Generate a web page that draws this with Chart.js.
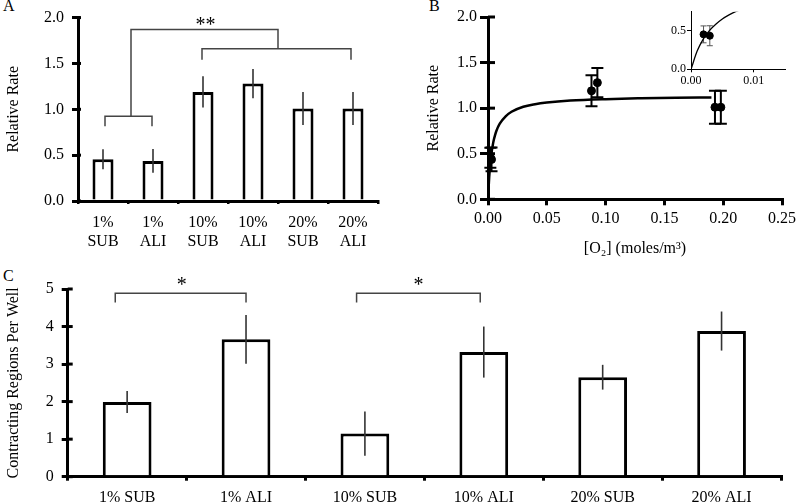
<!DOCTYPE html>
<html>
<head>
<meta charset="utf-8">
<script src="https://cdn.jsdelivr.net/npm/chart.js@4.4.1/dist/chart.umd.min.js"></script>
<style>
  body { margin: 0; background: #fff; width: 800px; height: 504px; position: relative; overflow: hidden; font-family: "Liberation Serif", serif; }
  canvas { position: absolute; }
  .panel { position: absolute; font-size: 16px; color: #000; }
</style>
</head>
<body>
<div class="panel" style="left:3px;top:-3px">A</div>
<div class="panel" style="left:429px;top:-3px">B</div>
<div class="panel" style="left:3px;top:267px">C</div>
<canvas id="chartA" width="400" height="262" style="left:0;top:0"></canvas>
<canvas id="chartB" width="400" height="262" style="left:400px;top:0"></canvas>
<canvas id="chartInset" width="145" height="92" style="left:655px;top:0"></canvas>
<canvas id="chartC" width="800" height="234" style="left:0;top:270px"></canvas>
<script>
// --- data ---
const groupsA = [['1%', 'SUB'], ['1%', 'ALI'], ['10%', 'SUB'], ['10%', 'ALI'], ['20%', 'SUB'], ['20%', 'ALI']];
const rateA = [0.455, 0.437, 1.19, 1.28, 1.01, 1.01];
const rateErrA = [0.11, 0.13, 0.17, 0.16, 0.18, 0.18];

const o2X = [0.002, 0.003, 0.088, 0.093, 0.193, 0.198];   // B points, same groups as A
const fitX = [0, 0.001, 0.002, 0.003, 0.004, 0.005, 0.006, 0.0071, 0.01, 0.015, 0.02, 0.03, 0.04, 0.05, 0.07, 0.10, 0.13, 0.16, 0.19];
const fitY = [0, 0.24, 0.40, 0.51, 0.59, 0.655, 0.705, 0.75, 0.83, 0.91, 0.96, 1.015, 1.043, 1.061, 1.083, 1.099, 1.108, 1.114, 1.118];
const insetXTicks = [0, 0.01];
const insetYTicks = [0, 0.5];

const groupsC = ['1% SUB', '1% ALI', '10% SUB', '10% ALI', '20% SUB', '20% ALI'];
const regionsC = [1.99, 3.66, 1.15, 3.32, 2.65, 3.88];
const regionsErrC = [0.29, 0.65, 0.59, 0.68, 0.33, 0.52];

// significance brackets: [from, to, top, left leg end, right leg end] in category units / y units
const bracketsA = [[0.04, 0.98, 0.925, 0.815, 0.815], [1.98, 4.96, 1.66, 1.54, 1.54], [0.56, 3.5, 1.87, 0.925, 1.66]];
const starsA = [[2.05, 1.95, '**']];
const bracketsC = [[-0.1, 1.0, 4.89, 4.64, 4.64], [1.93, 2.97, 4.89, 4.64, 4.64]];
const starsC = [[0.46, 5.2, '*'], [2.45, 5.2, '*']];

const serif = '"Liberation Serif", "Times New Roman", serif';
Chart.defaults.font.family = serif;
Chart.defaults.color = '#000';

const errorBars = {
  id: 'errorBars',
  beforeDatasetsDraw(chart, args, opts) {
    if (!opts.err || !opts.behind) return;
    drawErr(chart, opts);
  },
  afterDatasetsDraw(chart, args, opts) {
    if (!opts.err || opts.behind) return;
    drawErr(chart, opts);
  }
};
function drawErr(chart, opts) {
  const ctx = chart.ctx, ys = chart.scales.y, xs = chart.scales.x;
  const ds = chart.data.datasets[opts.dataset || 0];
  ctx.save();
  ctx.strokeStyle = opts.color; ctx.lineWidth = opts.width;
  ds.data.forEach((v, i) => {
    const val = typeof v === 'object' ? v.y : v;
    const x = typeof v === 'object' ? xs.getPixelForValue(v.x) : chart.getDatasetMeta(opts.dataset || 0).data[i].x;
    const y1 = ys.getPixelForValue(val + opts.err[i]), y2 = ys.getPixelForValue(val - opts.err[i]);
    ctx.beginPath();
    ctx.moveTo(x, y1); ctx.lineTo(x, y2);
    if (opts.cap) {
      ctx.moveTo(x - opts.cap, y1); ctx.lineTo(x + opts.cap, y1);
      ctx.moveTo(x - opts.cap, y2); ctx.lineTo(x + opts.cap, y2);
    }
    ctx.stroke();
  });
  ctx.restore();
}

// tick marks that also poke into the plot area on the y axis
const innerTicks = {
  id: 'innerTicks',
  afterDraw(chart, args, opts) {
    if (!opts.len) return;
    const s = chart.scales.y, ctx = chart.ctx, x0 = chart.chartArea.left;
    ctx.save();
    ctx.strokeStyle = '#000'; ctx.lineWidth = opts.width || 3;
    s.ticks.forEach((t, i) => {
      if (opts.only && !opts.only.includes(t.value)) return;
      const y = s.getPixelForTick(i);
      ctx.beginPath(); ctx.moveTo(x0, y); ctx.lineTo(x0 + opts.len, y); ctx.stroke();
    });
    ctx.restore();
  }
};

const brackets = {
  id: 'brackets',
  afterDraw(chart, args, opts) {
    if (!opts.items) return;
    const ctx = chart.ctx, xs = chart.scales.x, ys = chart.scales.y;
    const step = xs.getPixelForValue(1) - xs.getPixelForValue(0);
    const px = i => xs.getPixelForValue(0) + i * step;
    ctx.save();
    ctx.strokeStyle = '#444'; ctx.lineWidth = 1.5;
    opts.items.forEach(b => {
      ctx.beginPath();
      ctx.moveTo(px(b[0]), ys.getPixelForValue(b[3]));
      ctx.lineTo(px(b[0]), ys.getPixelForValue(b[2]));
      ctx.lineTo(px(b[1]), ys.getPixelForValue(b[2]));
      ctx.lineTo(px(b[1]), ys.getPixelForValue(b[4]));
      ctx.stroke();
    });
    ctx.fillStyle = '#000'; ctx.font = '20px ' + serif;
    ctx.textAlign = 'center'; ctx.textBaseline = 'middle';
    opts.stars.forEach(s => ctx.fillText(s[2], px(s[0]), ys.getPixelForValue(s[1]) + 4));
    ctx.restore();
  }
};

function axisStyle(extra) {
  return Object.assign({
    border: { display: true, color: '#000', width: 3 },
    grid: { display: true, drawOnChartArea: false, drawTicks: true, tickLength: 6, color: '#000', lineWidth: 3 },
  }, extra);
}

// --- A ---
new Chart(document.getElementById('chartA'), {
  type: 'bar',
  data: {
    labels: groupsA,
    datasets: [{ data: rateA, backgroundColor: '#fff', borderColor: '#000', borderWidth: 3, borderSkipped: 'bottom',
                 barPercentage: 0.42, categoryPercentage: 1 }]
  },
  options: {
    responsive: false, animation: false,
    layout: { padding: { top: 17, right: 22, left: 0, bottom: 0 } },
    plugins: {
      legend: { display: false }, tooltip: { enabled: false },
      errorBars: { err: rateErrA, color: '#333', width: 1.6 },
      brackets: { items: bracketsA, stars: starsA },
      innerTicks: { len: 3 }
    },
    scales: {
      x: axisStyle({
        offset: true,
        grid: { display: true, offset: true, drawOnChartArea: false, tickLength: 3, color: '#000', lineWidth: 2.5 },
        ticks: { font: { size: 16 }, padding: 9, maxRotation: 0 },
        afterFit: s => { s.height = 61; }
      }),
      y: axisStyle({
        min: 0, max: 2,
        ticks: { stepSize: 0.5, font: { size: 16 }, padding: 8, callback: v => v.toFixed(1) },
        title: { display: true, text: 'Relative Rate', font: { size: 16 }, padding: { top: 4, bottom: 0 } },
        afterFit: s => { s.width = 78; }
      })
    }
  },
  plugins: [errorBars, brackets, innerTicks]
});

// --- B ---
new Chart(document.getElementById('chartB'), {
  type: 'scatter',
  data: {
    datasets: [
      { data: o2X.map((x, i) => ({ x: x, y: rateA[i] })), pointRadius: 4, pointBackgroundColor: '#000', pointBorderColor: '#000', showLine: false },
      { data: fitX.map((x, i) => ({ x: x, y: fitY[i] })), showLine: true, pointRadius: 0, borderColor: '#000', borderWidth: 2.5, cubicInterpolationMode: 'monotone' }
    ]
  },
  options: {
    responsive: false, animation: false,
    layout: { padding: { top: 17, right: 14, left: 0, bottom: 0 } },
    plugins: {
      legend: { display: false }, tooltip: { enabled: false },
      errorBars: { err: rateErrA, color: '#000', width: 2, cap: 6, behind: true },
      innerTicks: { len: 7 }
    },
    scales: {
      x: axisStyle({
        type: 'linear', min: 0, max: 0.25,
        ticks: { stepSize: 0.05, font: { size: 16 }, padding: 4, callback: v => v.toFixed(2) },
        title: { display: true, text: '[O\u2082] (moles/m\u00B3)', font: { size: 16 }, padding: { top: 7 } },
        afterFit: s => { s.height = 62.7; }
      }),
      y: axisStyle({
        min: 0, max: 2,
        ticks: { stepSize: 0.5, font: { size: 16 }, padding: 3, callback: v => v.toFixed(1) },
        grid: { display: true, drawOnChartArea: false, tickLength: 8, color: '#000', lineWidth: 3 },
        title: { display: true, text: 'Relative Rate', font: { size: 16 }, padding: { top: 24, bottom: 0 } },
        afterFit: s => { s.width = 88; }
      })
    }
  },
  plugins: [errorBars, innerTicks]
});

// --- B inset ---
const onlyListed = list => c => list.includes(c.tick.value) ? '#000' : 'rgba(0,0,0,0)';
new Chart(document.getElementById('chartInset'), {
  type: 'scatter',
  data: {
    datasets: [
      { data: o2X.slice(0, 2).map((x, i) => ({ x: x, y: rateA[i] })), pointRadius: 3.5, pointBackgroundColor: '#000', pointBorderColor: '#000' },
      { data: fitX.map((x, i) => ({ x: x, y: fitY[i] })), showLine: true, pointRadius: 0, borderColor: '#000', borderWidth: 1.3, cubicInterpolationMode: 'monotone' }
    ]
  },
  options: {
    responsive: false, animation: false,
    layout: { padding: { top: 11.7, right: 15, left: 0, bottom: 0 } },
    plugins: {
      legend: { display: false }, tooltip: { enabled: false },
      errorBars: { err: rateErrA.slice(0, 2), color: '#555', width: 1, cap: 3, behind: true }
    },
    scales: {
      x: {
        type: 'linear', min: 0, max: 0.015,
        border: { display: true, color: '#000', width: 1 },
        grid: { display: true, drawOnChartArea: false, tickLength: 3, lineWidth: 1, color: onlyListed(insetXTicks) },
        ticks: { stepSize: 0.005, font: { size: 12 }, padding: 1,
                 callback: v => insetXTicks.includes(v) ? v.toFixed(2) : '' },
        afterFit: s => { s.height = 22.7; }
      },
      y: {
        min: 0, max: 0.75,
        border: { display: true, color: '#000', width: 1 },
        grid: { display: true, drawOnChartArea: false, tickLength: 4, lineWidth: 1, color: onlyListed(insetYTicks) },
        ticks: { stepSize: 0.5, font: { size: 12 }, padding: 1,
                 callback: v => insetYTicks.includes(v) ? v.toFixed(1) : '' },
        afterFit: s => { s.width = 36; }
      }
    }
  },
  plugins: [errorBars]
});

// --- C ---
new Chart(document.getElementById('chartC'), {
  type: 'bar',
  data: {
    labels: groupsC,
    datasets: [{ data: regionsC, backgroundColor: '#fff', borderColor: '#000', borderWidth: 3, borderSkipped: 'bottom',
                 barPercentage: 0.41, categoryPercentage: 1 }]
  },
  options: {
    responsive: false, animation: false,
    layout: { padding: { top: 19, right: 19, left: 0, bottom: 0 } },
    plugins: {
      legend: { display: false }, tooltip: { enabled: false },
      errorBars: { err: regionsErrC, color: '#333', width: 1.6 },
      brackets: { items: bracketsC, stars: starsC },
      innerTicks: { len: 5 }
    },
    scales: {
      x: axisStyle({
        offset: true,
        grid: { display: true, offset: true, drawOnChartArea: false, tickLength: 4, color: '#000', lineWidth: 3 },
        ticks: { font: { size: 16 }, padding: 7, maxRotation: 0 },
        afterFit: s => { s.height = 27.3; }
      }),
      y: axisStyle({
        min: 0, max: 5,
        ticks: { stepSize: 1, font: { size: 16 }, padding: 8, callback: v => v },
        title: { display: true, text: 'Contracting Regions Per Well', font: { size: 16 }, padding: { top: 4, bottom: 0 } },
        afterFit: s => { s.width = 67.7; }
      })
    }
  },
  plugins: [errorBars, brackets, innerTicks]
});
</script>
</body>
</html>
